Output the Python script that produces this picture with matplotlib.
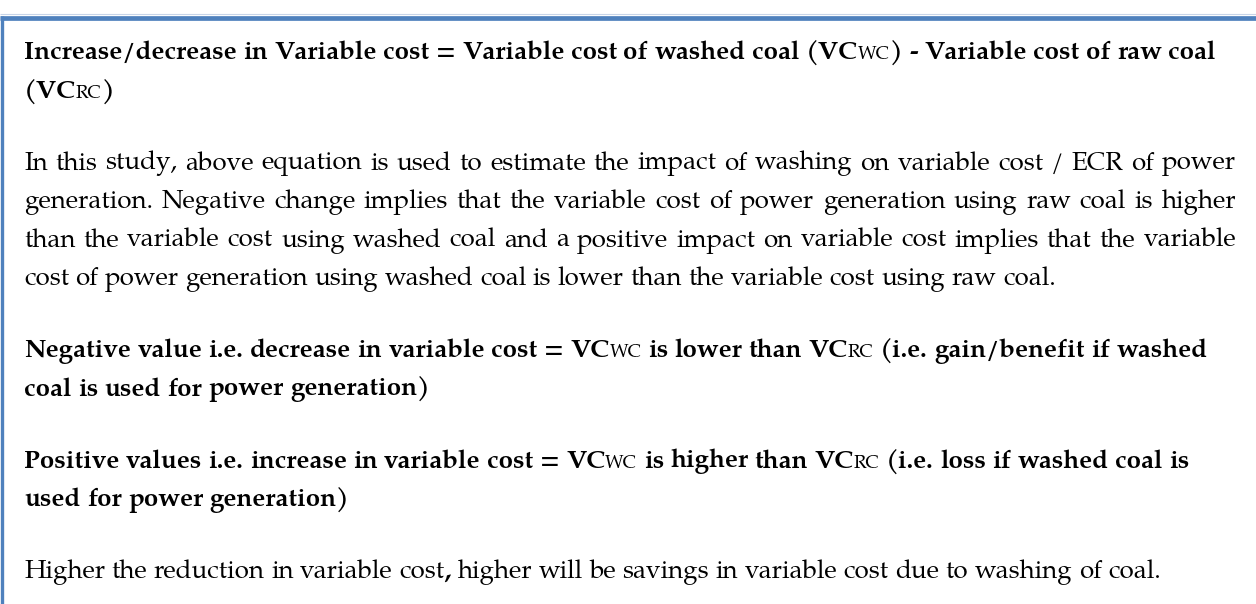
import re
import matplotlib
matplotlib.use("Agg")
import matplotlib.pyplot as plt
from matplotlib import font_manager

# paragraph text, one entry per printed line
# {..} marks the small-caps subscript part, <..> a bold piece inside regular text
heading_lines = [
    "Increase/decrease in Variable cost = Variable cost of washed coal (VC{WC}) - Variable cost of raw coal",
    "(VC{RC})",
]
study_lines = [
    "In this study, above equation is used to estimate the impact of washing on variable cost / ECR of power",
    "generation. Negative change implies that the variable cost of power generation using raw coal is higher",
    "than the variable cost using washed coal and a positive impact on variable cost implies that the variable",
    "cost of power generation using washed coal is lower than the variable cost using raw coal.",
]
negative_lines = [
    "Negative value i.e. decrease in variable cost = VC{WC} is lower than VC{RC} (i.e. gain/benefit if washed",
    "coal is used for power generation)",
]
positive_lines = [
    "Positive values i.e. increase in variable cost = VC{WC} is higher than VC{RC} (i.e. loss if washed coal is",
    "used for power generation)",
]
summary_lines = [
    "Higher the reduction in variable cost<,> higher will be savings in variable cost due to washing of coal.",
]

# (lines, weight, justified)
paragraphs = [
    (heading_lines, "bold", False),
    (study_lines, "normal", True),
    (negative_lines, "bold", False),
    (positive_lines, "bold", False),
    (summary_lines, "normal", False),
]

BORDER = "#4f81bd"
LEFT = 24
RIGHT = 1236
FIRST_BASELINE = 59
LINE_STEP = 38.5
PARA_STEP = 72
SMALL = 0.72

available = {f.name for f in font_manager.fontManager.ttflist}
family = "DejaVu Serif"
for name in ["Palatino Linotype", "Book Antiqua", "TeX Gyre Pagella", "P052",
             "URW Palladio L", "Liberation Serif"]:
    if name in available:
        family = name
        break

fig = plt.figure(figsize=(12.56, 6.04), dpi=100)
ax = fig.add_axes([0, 0, 1, 1])
ax.set_xlim(0, 1256)
ax.set_ylim(604, 0)
ax.axis("off")
renderer = fig.canvas.get_renderer()


def text_width(s, size, weight):
    t = ax.text(0, 0, s, fontsize=size, fontweight=weight, family=family)
    w = t.get_window_extent(renderer).width
    t.remove()
    return w


def split_word(word):
    runs = []
    for part in re.split(r"(\{[^}]*\}|<[^>]*>)", word):
        if not part:
            continue
        if part.startswith("{"):
            runs.append((part[1:-1], "small"))
        elif part.startswith("<"):
            runs.append((part[1:-1], "bold"))
        else:
            runs.append((part, None))
    return runs


def run_style(kind, size, weight):
    if kind == "small":
        return size * SMALL, "normal"
    if kind == "bold":
        return size, "bold"
    return size, weight


def measure_line(line, size, weight):
    words = [split_word(w) for w in line.split(" ")]
    widths = []
    for runs in words:
        total = 0
        for s, kind in runs:
            sz, wt = run_style(kind, size, weight)
            total += text_width(s, sz, wt)
        widths.append(total)
    space = text_width("a a", size, weight) - text_width("aa", size, weight)
    return words, widths, space


def draw_line(line, y, size, weight, justify):
    words, widths, space = measure_line(line, size, weight)
    if justify and len(words) > 1:
        space = (RIGHT - LEFT - sum(widths)) / (len(words) - 1)
    x = LEFT
    for runs, w in zip(words, widths):
        xx = x
        for s, kind in runs:
            sz, wt = run_style(kind, size, weight)
            ax.text(xx, y, s, fontsize=sz, fontweight=wt, family=family,
                    va="baseline", ha="left", color="#000000")
            xx += text_width(s, sz, wt)
        x += w + space


# fit the font size so the first heading line spans its width in the reference
base = 20
_, ws, sp = measure_line(heading_lines[0], base, "bold")
natural = sum(ws) + sp * (len(ws) - 1)
size = base * (1218 - LEFT) / natural

# frame: light rule, blue top rule and left rule
ax.plot([0, 1256], [14, 14], color="#c8d5e8", lw=0.8, solid_capstyle="butt")
ax.plot([0, 1256], [17.5, 17.5], color=BORDER, lw=3.4, solid_capstyle="butt")
ax.plot([1.5, 1.5], [15.5, 604], color=BORDER, lw=2.4, solid_capstyle="butt")

y = FIRST_BASELINE
for p, (lines, weight, justify) in enumerate(paragraphs):
    if p > 0:
        y += PARA_STEP - LINE_STEP
    for i, line in enumerate(lines):
        last = i == len(lines) - 1
        draw_line(line, y, size, weight, justify and not last)
        y += LINE_STEP

fig.savefig("out.png", dpi=100)
